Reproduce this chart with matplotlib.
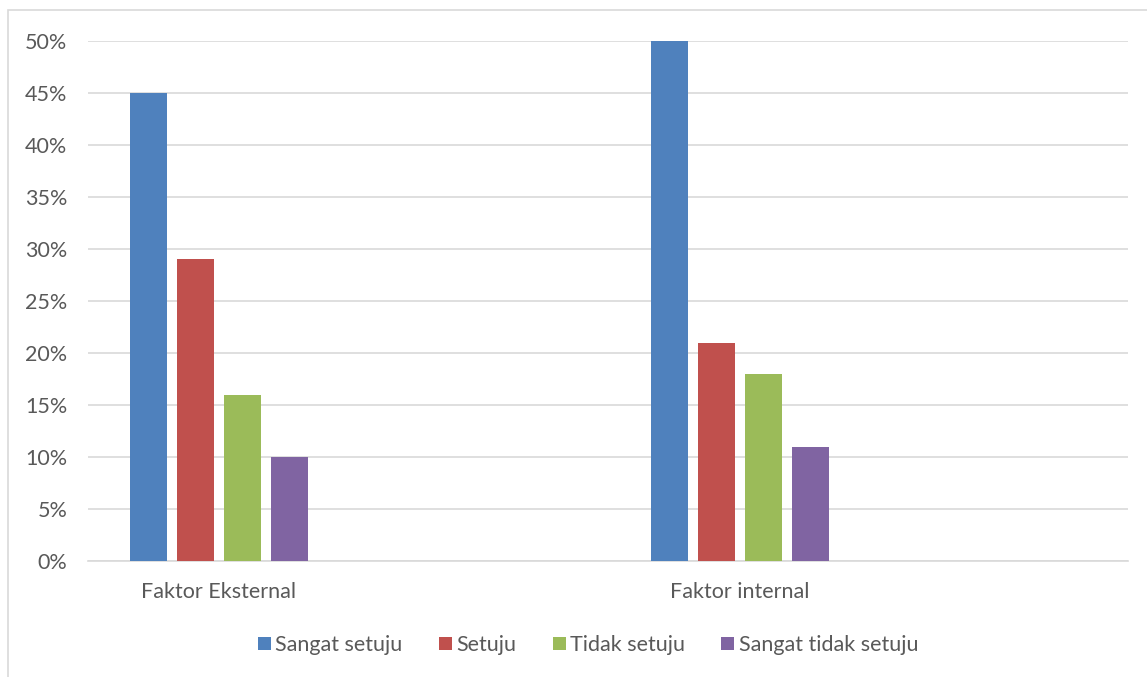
import numpy as np
import matplotlib.pyplot as plt
from matplotlib.patches import Rectangle
from matplotlib.ticker import PercentFormatter

categories = ['Faktor Eksternal', 'Faktor internal']
series = ['Sangat setuju', 'Setuju', 'Tidak setuju', 'Sangat tidak setuju']
values = {
    'Sangat setuju': [0.45, 0.50],
    'Setuju': [0.29, 0.21],
    'Tidak setuju': [0.16, 0.18],
    'Sangat tidak setuju': [0.10, 0.11],
}
colors = ['#4F81BD', '#C0504D', '#9BBB59', '#8064A2']

plt.rcParams['font.family'] = ['Lato', 'DejaVu Sans']

fig = plt.figure(figsize=(11.47, 6.77), dpi=100)
ax = fig.add_axes([88/1147, 1-561/677, 1040/1147, 520/677])

# outer chart border
fig.patches.append(Rectangle((8/1147, -0.05), 1.1, 1-10/677+0.05, transform=fig.transFigure,
                             fill=False, edgecolor='#d9d9d9', linewidth=1.2))

x = np.arange(len(categories))
w = 0.071
step = 0.0902
for i, s in enumerate(series):
    ax.bar(x + (i-1.5)*step, values[s], width=w, color=colors[i], label=s, zorder=3)

ax.set_ylim(0, 0.5)
ax.set_xlim(-0.2514, 1.745)
ax.set_yticks(np.arange(0, 0.51, 0.05))
ax.yaxis.set_major_formatter(PercentFormatter(1.0, decimals=0))
ax.set_xticks(x)
ax.set_xticklabels(categories)
ax.grid(axis='y', color='#d9d9d9', linewidth=1.2, zorder=0)
for sp in ['top', 'right', 'left']:
    ax.spines[sp].set_visible(False)
ax.spines['bottom'].set_color('#d9d9d9')
ax.spines['bottom'].set_linewidth(1.2)
ax.tick_params(axis='both', length=0, labelsize=15.5, colors='#595959')
ax.tick_params(axis='y', pad=15)
ax.tick_params(axis='x', pad=15)

ax.legend(loc='center', bbox_to_anchor=(588/1147, 1-645/677), bbox_transform=fig.transFigure,
          ncol=4, frameon=False, fontsize=15.5, labelcolor='#595959',
          handlelength=0.6, handleheight=0.6, handletextpad=0.2, columnspacing=1.7)

fig.savefig('out.png', dpi=100)
